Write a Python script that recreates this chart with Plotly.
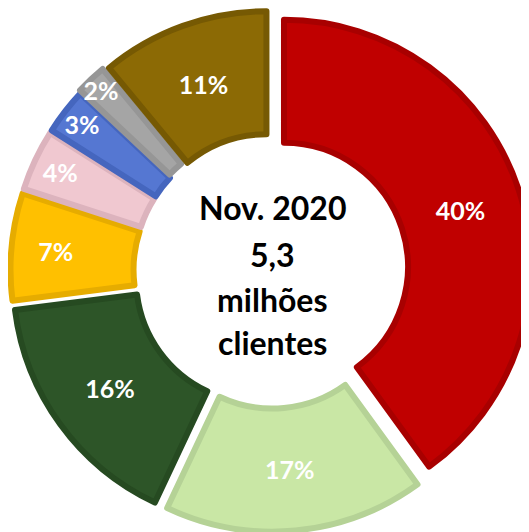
import plotly.graph_objects as go

# Client split, Nov. 2020 (share of 5,3 million clients), clockwise from 12 o'clock
shares = [40, 17, 16, 7, 4, 3, 2, 11]
labels = ["40%", "17%", "16%", "7%", "4%", "3%", "2%", "11%"]
fill_colors = ["#C00000", "#C9E7A5", "#2D5528", "#FFC000",
               "#F0C8D0", "#5577D2", "#A5A5A5", "#8C6A05"]
edge_colors = ["#A80000", "#B5D296", "#264A21", "#E6AC00",
               "#DCB3BD", "#4566BE", "#969696", "#765903"]
pulls = [0.055, 0.055, 0.055, 0.055, 0.055, 0.055, 0.065, 0.055]

center_lines = ["Nov. 2020", "5,3", "milhões", "clientes"]
center_line_y = [0.630, 0.543, 0.461, 0.380]

fig = go.Figure()

fig.add_trace(go.Pie(
    values=shares,
    text=labels,
    textinfo="text",
    textposition="inside",
    insidetextorientation="horizontal",
    textfont=dict(family="Lato", size=25, color="white", weight="bold"),
    sort=False,
    direction="clockwise",
    rotation=0,
    hole=0.502,
    pull=pulls,
    marker=dict(colors=fill_colors, line=dict(color=edge_colors, width=6)),
    # figure is a bit larger than the window so the donut runs off the edges
    domain=dict(x=[0.0, 0.9743], y=[0.0257, 1.0]),
    hoverinfo="skip",
    showlegend=False,
))

for line, y in zip(center_lines, center_line_y):
    fig.add_annotation(
        text="<b>%s</b>" % line,
        x=0.489, y=y, xref="paper", yref="paper",
        xanchor="center", yanchor="middle",
        showarrow=False,
        font=dict(family="Lato", size=32, color="black"),
    )

fig.update_layout(
    width=540,
    height=540,
    margin=dict(l=0, r=0, t=0, b=0),
    paper_bgcolor="white",
    plot_bgcolor="white",
    uniformtext=dict(minsize=25, mode="show"),
    font=dict(family="Lato"),
)

fig.write_html("out.html")
